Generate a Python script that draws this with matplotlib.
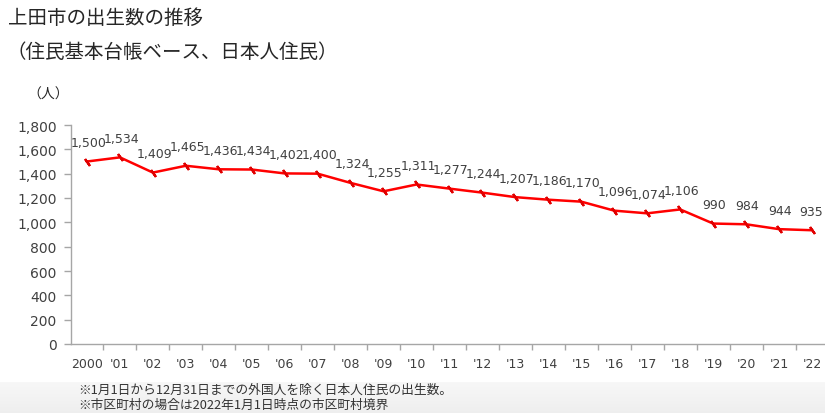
import numpy as np
import matplotlib
matplotlib.use("Agg")
import matplotlib.pyplot as plt
from matplotlib.ticker import FuncFormatter, FixedLocator

plt.rcParams['font.family'] = ['DejaVu Sans', 'Noto Sans CJK JP']

years = ["2000", "'01", "'02", "'03", "'04", "'05", "'06", "'07", "'08", "'09", "'10",
         "'11", "'12", "'13", "'14", "'15", "'16", "'17", "'18", "'19", "'20", "'21", "'22"]
births = [1500, 1534, 1409, 1465, 1436, 1434, 1402, 1400, 1324, 1255, 1311,
          1277, 1244, 1207, 1186, 1170, 1096, 1074, 1106, 990, 984, 944, 935]

title = "上田市の出生数の推移"
subtitle = "（住民基本台帳ベース、日本人住民）"
unit = "（人）"
notes = ["※1月1日から12月31日までの外国人を除く日本人住民の出生数。",
         "※市区町村の場合は2022年1月1日時点の市区町村境界"]

W, H = 825, 414
fig = plt.figure(figsize=(W / 100, H / 100), dpi=100)
fig.patch.set_facecolor("white")

# soft grey band along the bottom edge
band = fig.add_axes([0, 0, 1, 1 - 383 / H], zorder=-5)
grad = np.linspace(0.97, 0.935, 64).reshape(-1, 1)
band.imshow(np.dstack([grad, grad, grad]), aspect="auto", extent=[0, 1, 0, 1],
            origin="upper")
band.axis("off")

ax = fig.add_axes([70.5 / W, 1 - 345 / H, 758 / W, (345 - 126) / H])
ax.set_facecolor("none")
x = np.arange(len(years))
ax.plot(x, births, color="#ff0000", lw=1.8, marker=(2, 2, 35), ms=6,
        mew=1.6, mec="#e00000", zorder=3, clip_on=False)

for xi, v in zip(x, births):
    dx = 1.0 if xi < len(years) - 1 else -1.0
    ax.annotate(f"{v:,}", (xi, v), xytext=(dx, 9), textcoords="offset points",
                ha="center", va="bottom", fontsize=9, color="#404040")

ax.set_xlim(-0.5, len(years) - 0.5)
ax.set_ylim(0, 1800)
ax.set_yticks(np.arange(0, 1801, 200))
ax.yaxis.set_major_formatter(FuncFormatter(lambda v, p: f"{int(v):,}"))
ax.set_xticks(x)
ax.set_xticklabels(years)
ax.xaxis.set_minor_locator(FixedLocator(np.arange(-0.5, len(years), 1.0)[1:]))

for s in ["top", "right"]:
    ax.spines[s].set_visible(False)
for s in ["left", "bottom"]:
    ax.spines[s].set_color("#a6a6a6")
    ax.spines[s].set_linewidth(1.0)

ax.tick_params(axis="y", length=5, width=1, color="#a6a6a6", pad=5,
               labelsize=10, labelcolor="#404040")
ax.tick_params(axis="x", which="major", length=0, pad=9, labelsize=9,
               labelcolor="#404040")
ax.tick_params(axis="x", which="minor", length=4, width=1, color="#a6a6a6")

cjk = ['Noto Sans CJK JP', 'DejaVu Sans']
fig.text(8 / W, 1 - 18 / H, title, fontsize=14, family=cjk, color="#262626",
         va="center", ha="left")
fig.text(6 / W, 1 - 53 / H, subtitle, fontsize=14, family=cjk, color="#262626",
         va="center", ha="left")
fig.text(27 / W, 1 - 95 / H, unit, fontsize=10, family=cjk, color="#262626",
         va="center", ha="left")
fig.text(78 / W, 1 - 390 / H, notes[0], fontsize=9.2, family=cjk, color="#333333",
         va="center", ha="left")
fig.text(78 / W, 1 - 405 / H, notes[1], fontsize=9.2, family=cjk, color="#333333",
         va="center", ha="left")

fig.savefig("out.png", dpi=100, facecolor="white")
